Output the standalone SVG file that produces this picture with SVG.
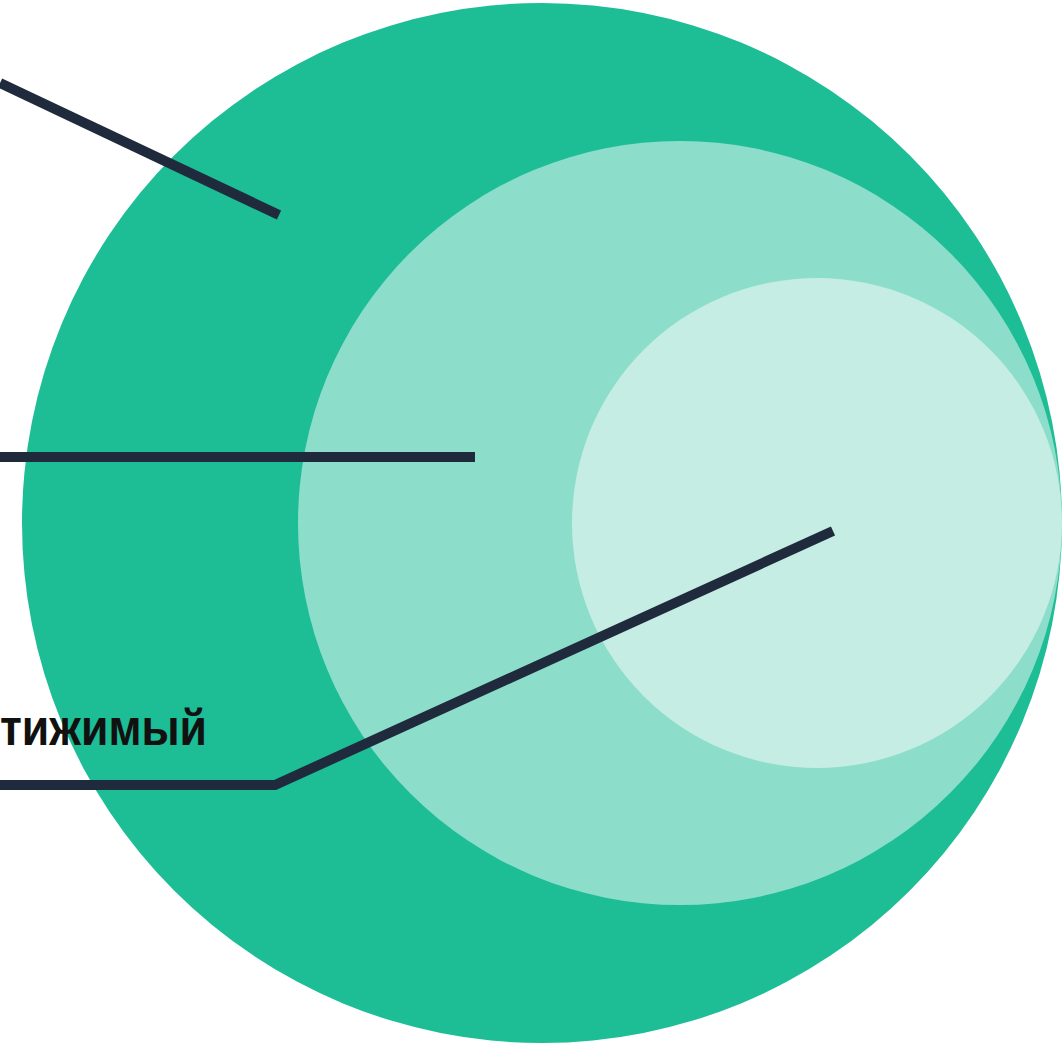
<svg xmlns="http://www.w3.org/2000/svg" width="1063" height="1045" viewBox="0 0 1063 1045">
<style>
.ln{fill:none;stroke:#1f2b3c;stroke-width:10;stroke-linejoin:miter;stroke-linecap:butt}
.lbl{font-family:"Liberation Sans","DejaVu Sans",sans-serif;font-weight:bold;font-size:50px;fill:#111111}
</style>
<rect width="1063" height="1045" fill="#ffffff"/>
<g id="outer"><circle cx="542" cy="523" r="520" fill="#1dbd96"/></g>
<g id="middle"><circle cx="680" cy="523" r="382" fill="#8cdecb"/></g>
<g id="inner"><circle cx="817" cy="523" r="245" fill="#c5ede3"/></g>
<g id="label"><text class="lbl" x="0" y="745" textLength="207" lengthAdjust="spacingAndGlyphs">тижимый</text></g>
<g id="connectors">
<path class="ln" d="M0 83 L279 215"/>
<path class="ln" d="M0 457 L475 457"/>
<path class="ln" d="M0 785 L275 785 L833 531"/>
</g>
</svg>
